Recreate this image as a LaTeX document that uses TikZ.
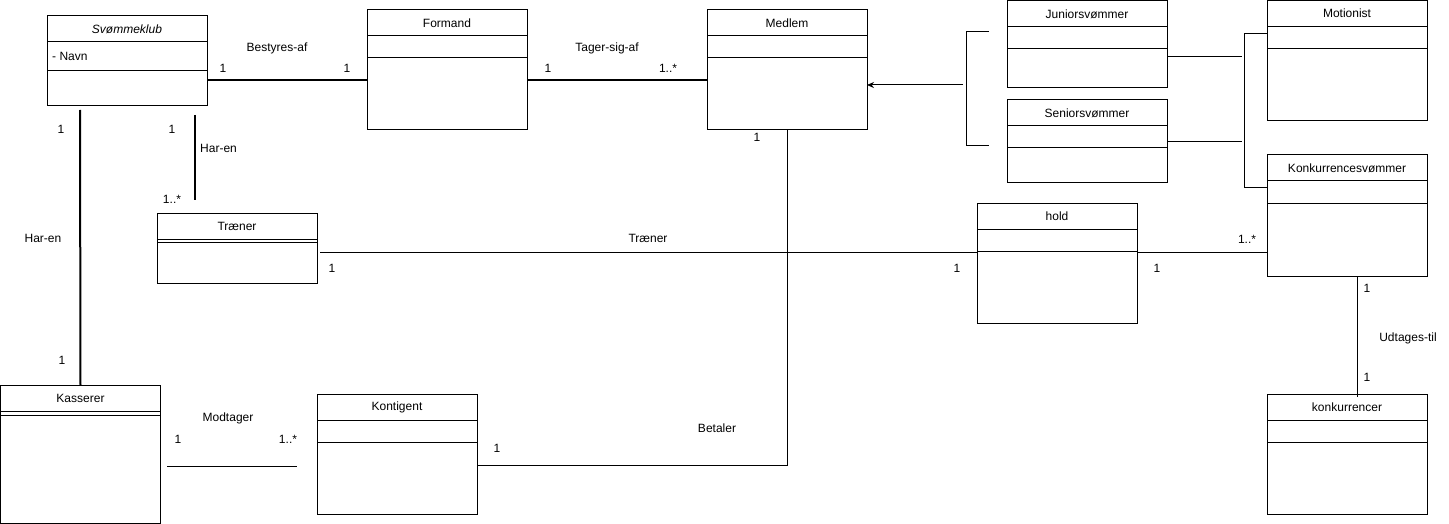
\documentclass[tikz,border=0pt]{standalone}
\usepackage{fontspec}
\setmainfont{Liberation Sans}
\usetikzlibrary{arrows.meta}

\begin{document}
\begin{tikzpicture}[
  x=1pt, y=-1pt,
  cls/.style={draw, line width=1pt, minimum width=160pt, inner sep=0pt, outer sep=0pt, anchor=north west},
  ttl/.style={font=\fontsize{12}{14}\selectfont, inner sep=0pt},
  lbl/.style={font=\fontsize{12}{14}\selectfont, inner sep=0pt},
  assoc/.style={line width=1pt},
  strong/.style={line width=2pt},
  gen/.style={line width=1pt, -{Stealth[length=7pt, width=6pt]}}
]
\useasboundingbox (0,0) rectangle (1449,524);

% classes: name/x/y/height/1st divider/2nd divider/title
\foreach \n/\x/\y/\h/\a/\b/\t in {
  klub/47/16/90/26/55/{\itshape Svømmeklub},
  formand/367/10/120/26/48/Formand,
  medlem/707/10/120/26/48/Medlem,
  junior/1007/1/87/26/48/Juniorsvømmer,
  senior/1007/100/83/26/48/Seniorsvømmer,
  motionist/1267/0.5/120.5/26.5/48.5/Motionist,
  konksv/1267/155/121/26/48/Konkurrencesvømmer,
  hold/977/203/120/26/48/hold,
  traener/157/213/70/26/29.5/Træner,
  kasserer/0.5/385/138/26.5/30/Kasserer,
  kontigent/317/394/120/26/48/Kontigent,
  konk/1267/394/120/26/48/konkurrencer}
{
  \node[cls, minimum height=\h pt] (\n) at (\x,\y) {};
  \node[ttl] (\n-t) at ([yshift=-13pt]\n.north) {\t};
  \draw[assoc] ([yshift=-\a pt]\n.north west) -- ([yshift=-\a pt]\n.north east);
  \draw[assoc] ([yshift=-\b pt]\n.north west) -- ([yshift=-\b pt]\n.north east);
}
\node[lbl, anchor=west] (navn) at ([xshift=5pt, yshift=-40pt]klub.north west) {- Navn};

% free ends
\coordinate (h1) at (80,110);
\coordinate (h2a) at (195,115);
\coordinate (h2b) at (195,200);
\coordinate (t1) at (320,252);
\coordinate (m1) at (167,466);
\coordinate (m2) at (297,466);
\coordinate (brtop) at (989,32);
\coordinate (brbot) at (989,146);
\coordinate (brmid) at (963,85);
\coordinate (spl) at (1244,0);
\coordinate (jr) at (1242,57);
\coordinate (sr) at (1242,142);

% associations
\draw[strong] ([yshift=-19pt]klub.east) -- ([yshift=-10pt]formand.west);
\draw[strong] ([yshift=-10pt]formand.east) -- ([yshift=-10pt]medlem.west);
\draw[strong] (h1) -- (kasserer.north);
\draw[strong] (h2a) -- (h2b);
\draw[assoc] (t1) -- (t1 -| hold.west);
\draw[assoc] (hold.east |- t1) -- (t1 -| konksv.west);
\draw[assoc] ([xshift=10pt]konksv.south) -- ([xshift=10pt, yshift=-3pt]konk.north);
\draw[assoc] (medlem.south) |- ([yshift=-11pt]kontigent.east);
\draw[assoc] (m1) -- (m2);

% generalisation
\draw[assoc] (brtop) -- ++(-23,0) |- (brbot);
\draw[gen] (brmid) -- (brmid -| medlem.east);
\draw[assoc] ([yshift=-56pt]junior.north east) -- (jr);
\draw[assoc] ([yshift=-42pt]senior.north east) -- (sr);
\draw[assoc] ([yshift=-33pt]motionist.north west) -| (konksv.north west -| spl) |- ([yshift=-33pt]konksv.north west);

% labels
\node[lbl] (l-best) at (277,48) {Bestyres-af};
\node[lbl] (l-best1) at (223,68) {1};
\node[lbl] (l-best2) at (347,68) {1};
\node[lbl] (l-tag) at (607,48) {Tager-sig-af};
\node[lbl] (l-tag1) at (548,68) {1};
\node[lbl] (l-tag2) at (668,68) {1..*};
\node[lbl] (l-har1) at (61,129) {1};
\node[lbl] (l-har) at (43,238) {Har-en};
\node[lbl] (l-har2) at (62,360) {1};
\node[lbl] (l-hart1) at (172,129) {1};
\node[lbl, anchor=west] (l-hart) at (200,148) {Har-en};
\node[lbl] (l-hart2) at (172,199) {1..*};
\node[lbl] (l-med1) at (757,137) {1};
\node[lbl] (l-tr) at (648,238) {Træner};
\node[lbl] (l-tr1) at (332,268) {1};
\node[lbl] (l-tr2) at (957,268) {1};
\node[lbl] (l-hold1) at (1157,268) {1};
\node[lbl] (l-hold2) at (1247,239) {1..*};
\node[lbl] (l-udt1) at (1367,288) {1};
\node[lbl] (l-udt) at (1408,338) {Udtages-til};
\node[lbl] (l-udt2) at (1367,377) {1};
\node[lbl] (l-mod) at (228,418) {Modtager};
\node[lbl] (l-mod1) at (178,439) {1};
\node[lbl] (l-mod2) at (288,439) {1..*};
\node[lbl] (l-bet) at (717,428) {Betaler};
\node[lbl] (l-bet1) at (497,448) {1};
\end{tikzpicture}
\end{document}
